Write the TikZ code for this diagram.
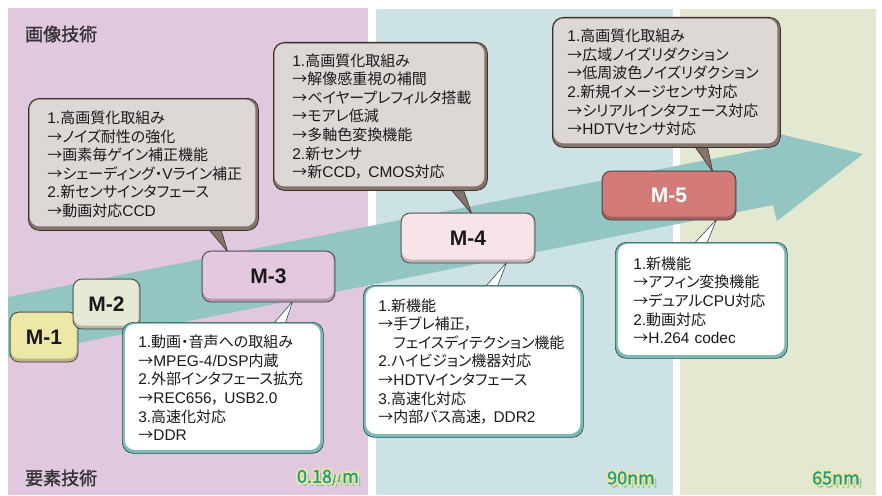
\documentclass[tikz,border=0pt]{standalone}
\usepackage{fontspec}
\setmainfont{Noto Sans CJK JP}[RawFeature=+palt]
\newfontfamily\latinfont{Liberation Sans}[Scale=1.03]
\newfontfamily\hdrfont{Noto Sans CJK JP}[FakeBold=1.4]
\newfontfamily\nmfont{Noto Sans CJK JP}[FakeBold=1.2]
\newfontfamily\mfont{Liberation Sans}
\newcommand{\lat}[1]{{\latinfont #1}}
\newcommand{\arw}{→}
\usetikzlibrary{calc}
\definecolor{bgpink}{HTML}{E0C9DE}
\definecolor{bgblue}{HTML}{CCE2E4}
\definecolor{bggreen}{HTML}{E3E8D1}
\definecolor{arrowteal}{HTML}{93C5C3}
\definecolor{upfill}{HTML}{DDD7D5}
\definecolor{upband}{HTML}{85746C}
\definecolor{upline}{HTML}{3A302C}
\definecolor{lowband}{HTML}{7BBAB6}
\definecolor{lowline}{HTML}{2E4E4C}
\definecolor{txt}{HTML}{1A1A1A}
\definecolor{mone}{HTML}{EEE8A8}
\definecolor{mtwo}{HTML}{E4EAD4}
\definecolor{mthree}{HTML}{E3C8DF}
\definecolor{mfour}{HTML}{F6E4E8}
\definecolor{mfive}{HTML}{D27B79}
\definecolor{nmteal}{HTML}{1A9A90}
\definecolor{nmyellow}{HTML}{F0E79A}
\definecolor{nmshadow}{HTML}{8CC0BC}
\pgfdeclarelayer{back}
\pgfdeclarelayer{ptr}
\pgfsetlayers{back,ptr,main}
\tikzset{
  bodytext/.style={font=\fontsize{15}{18.6}\selectfont, text=txt, align=left, anchor=north west, inner ysep=0pt},
  upbox/.style={bodytext, rounded corners=11pt, draw=upline, line width=0.8pt, fill=upband,
    path picture={\fill[upfill, rounded corners=10pt]
      ([shift={(1.2pt,-1.2pt)}]path picture bounding box.north west) rectangle
      ([shift={(-3pt,4pt)}]path picture bounding box.south east);}},
  lowbox/.style={bodytext, rounded corners=11pt, draw=lowline, line width=0.7pt, fill=lowband,
    path picture={\fill[white, rounded corners=10pt]
      ([shift={(2.5pt,-1.6pt)}]path picture bounding box.north west) rectangle
      ([shift={(-3pt,3.5pt)}]path picture bounding box.south east);}},
  mbox/.style={rounded corners=9pt, draw=black!75, line width=0.7pt, fill=#1!78!black,
    font=\mfont\bfseries\fontsize{21}{21}\selectfont, text=black!90, inner sep=0pt,
    path picture={\fill[#1, rounded corners=8pt]
      ([shift={(1pt,-1pt)}]path picture bounding box.north west) rectangle
      ([shift={(-1.5pt,3.5pt)}]path picture bounding box.south east);}},
  upptr/.style={fill=upband, draw=upline, line width=0.6pt, line join=round},
  lowptr/.style={fill=white, draw=lowline, line width=0.6pt, line join=round},
  hdr/.style={font=\hdrfont\fontsize{18}{18}\selectfont, text=black!80, anchor=west, inner sep=0pt},
  nmfg/.style={font=\nmfont\fontsize{18}{18}\selectfont, text=nmteal, anchor=east, inner sep=0pt},
  nmbg/.style={font=\nmfont\fontsize{18}{18}\selectfont, text=nmyellow, anchor=east, inner sep=0pt},
  nmsh/.style={font=\nmfont\fontsize{18}{18}\selectfont, text=nmshadow, anchor=east, inner sep=0pt},
}
\newcommand{\glowlabel}[3]{%
  \node[nmsh] at ($(#2)+(2.8,3)$) {#3};
  \foreach \a in {45,135,225,315} {\node[nmbg] at ($(#2)+(\a:2.2)$) {#3};}
  \node[nmfg] (#1) at (#2) {#3};%
}
\begin{document}
\begin{tikzpicture}[x=1pt,y=-1pt]
\useasboundingbox (0,0) rectangle (882,495);
\begin{pgfonlayer}{back}
  \fill[white] (0,0) rectangle (882,495);
  \fill[bgpink] (8,8) rectangle (368,495);
  \fill[bgblue] (376,9) rectangle (673,495);
  \fill[bggreen] (680,9) rectangle (876,495);
  \fill[arrowteal] (8,297) -- (773,147) -- (767,131) -- (863,154) -- (777,221) -- (773,205) -- (8,357) -- cycle;
\end{pgfonlayer}

% headers
\node[hdr] (hdrtop) at (25,34) {画像技術};
\node[hdr] (hdrbot) at (25,478) {要素技術};

% M boxes
\node[mbox=mone, minimum width=68pt, minimum height=50pt] (m1) at (44,337) {M-1};
\node[mbox=mtwo, minimum width=67pt, minimum height=50pt] (m2) at (106.5,304) {M-2};

% upper callout M-3
\node[upbox, minimum width=230pt, minimum height=132pt, text width=192pt, inner xsep=19pt] (c3) at (28,98)
 {\lat{1.}高画質化取組み\\\arw ノイズ耐性の強化\\\arw 画素毎ゲイン補正機能\\\arw シェーディング・\lat{V}ライン補正\\\lat{2.}新センサインタフェース\\\arw 動画対応\lat{CCD}};
% lower callout M-3
\node[lowbox, minimum width=201pt, minimum height=131pt, text width=169pt, inner xsep=16pt] (l3) at (122,322)
 {\lat{1.}動画・音声への取組み\\\arw\lat{MPEG-4/DSP}内蔵\\\lat{2.}外部インタフェース拡充\\\arw\lat{REC656}， \lat{USB2.0}\\\lat{3.}高速化対応\\\arw\lat{DDR}};
\node[mbox=mthree, minimum width=133pt, minimum height=51pt] (m3) at (268.5,276.5) {M-3};

% M-4
\node[upbox, minimum width=214pt, minimum height=148pt, text width=176pt, inner xsep=19pt] (c4) at (273,42)
 {\lat{1.}高画質化取組み\\\arw 解像感重視の補間\\\arw ベイヤープレフィルタ搭載\\\arw モアレ低減\\\arw 多軸色変換機能\\\lat{2.}新センサ\\\arw 新\lat{CCD}， \lat{CMOS}対応};
\node[lowbox, minimum width=220pt, minimum height=152pt, text width=190pt, inner xsep=15pt] (l4) at (363,285)
 {\lat{1.}新機能\\\arw 手ブレ補正，\\\phantom{\arw}フェイスディテクション機能\\\lat{2.}ハイビジョン機器対応\\\arw\lat{HDTV}インタフェース\\\lat{3.}高速化対応\\\arw 内部バス高速， \lat{DDR2}};
\node[mbox=mfour, minimum width=134pt, minimum height=50pt] (m4) at (468,238) {M-4};

% M-5
\node[upbox, minimum width=228pt, minimum height=130pt, text width=198pt, inner xsep=15pt] (c5) at (552,17)
 {\lat{1.}高画質化取組み\\\arw 広域ノイズリダクション\\\arw 低周波色ノイズリダクション\\\lat{2.}新規イメージセンサ対応\\\arw シリアルインタフェース対応\\\arw\lat{HDTV}センサ対応};
\node[lowbox, minimum width=172pt, minimum height=116pt, text width=136pt, inner xsep=18pt] (l5) at (615,242)
 {\lat{1.}新機能\\\arw アフィン変換機能\\\arw デュアル\lat{CPU}対応\\\lat{2.}動画対応\\\arw\lat{H.264 codec}};
\node[mbox=mfive, minimum width=134pt, minimum height=49pt, text=white] (m5) at (669,195.5) {M-5};

% pointers
\begin{pgfonlayer}{ptr}
  \filldraw[upptr] ($(c3.south west)+(175,-8)$) -- ($(m3.north west)+(26,1)$) -- ($(c3.south west)+(191,-8)$) -- cycle;
  \filldraw[upptr] ($(c4.south west)+(172,-8)$) -- ($(m4.north west)+(71,1)$) -- ($(c4.south west)+(188,-8)$) -- cycle;
  \filldraw[upptr] ($(c5.south west)+(138,-8)$) -- ($(m5.north west)+(111,1)$) -- ($(c5.south west)+(154,-8)$) -- cycle;
  \filldraw[lowptr] ($(l3.north west)+(146,8)$) -- ($(m3.south west)+(91,-1)$) -- ($(l3.north west)+(161,8)$) -- cycle;
  \filldraw[lowptr] ($(l4.north west)+(117,8)$) -- ($(m4.south west)+(106,-1)$) -- ($(l4.north west)+(132,8)$) -- cycle;
  \filldraw[lowptr] ($(l5.north west)+(73,8)$) -- ($(m5.south west)+(115,-1)$) -- ($(l5.north west)+(89,8)$) -- cycle;
\end{pgfonlayer}

% process labels
\coordinate (p180) at (359,478);
\coordinate (p90) at (655,478);
\coordinate (p65) at (860,478);
\glowlabel{n180}{p180}{0.18$\mu$m}
\glowlabel{n90}{p90}{90nm}
\glowlabel{n65}{p65}{65nm}
\end{tikzpicture}
\end{document}
